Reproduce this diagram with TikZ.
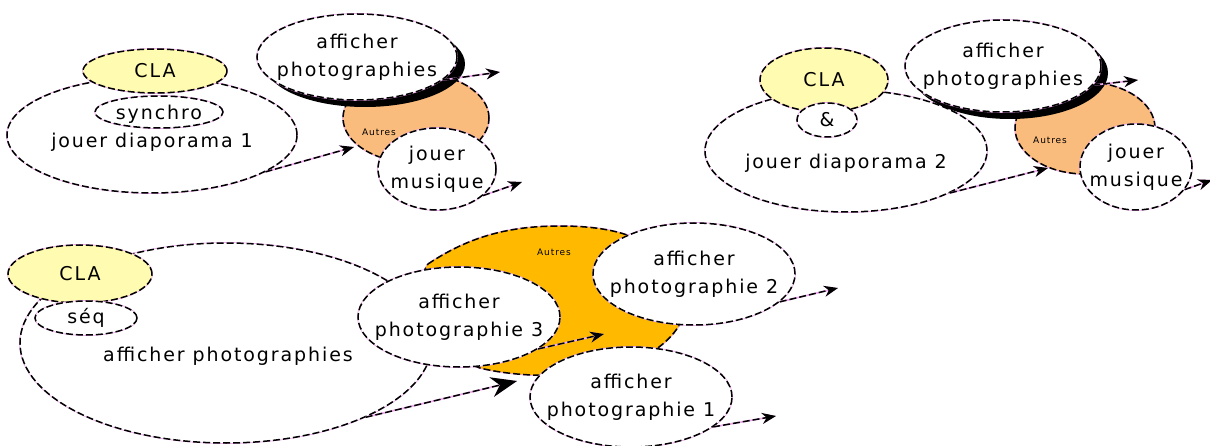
\documentclass[tikz,border=0pt]{standalone}
\usepackage{fontspec}
\setmainfont{DejaVu Sans}[LetterSpace=10]
\usetikzlibrary{shapes.geometric,arrows.meta}
\definecolor{clayel}{RGB}{255,251,176}
\definecolor{orlight}{RGB}{250,188,125}
\definecolor{ordark}{RGB}{255,186,0}
\definecolor{edgepink}{RGB}{240,170,240}
\tikzset{
  dsh/.style={draw=black, line width=1.5pt, dash pattern=on 7pt off 3pt,
    preaction={draw=edgepink, solid, line width=1.7pt}},
  el/.style={ellipse, inner sep=0pt, fill=white, dsh},
  cla/.style={el, fill=clayel},
  txt/.style={font=\fontsize{19}{28}\selectfont, align=center, inner sep=0pt},
  small/.style={font=\fontsize{9}{10}\selectfont, inner sep=0pt},
  arr/.style={dsh, -{Stealth[length=14pt,width=11pt]}},
  bigarr/.style={dsh, -{Stealth[length=26pt,width=20pt]}},
}
\begin{document}
\begin{tikzpicture}[x=1pt,y=-1pt]
\useasboundingbox (0,0) rectangle (1210,446);

% ---------- diagram 1 ----------
\node[el, minimum width=290, minimum height=116] (j1) at (152,135) {};
\node[txt] (j1t) at (152,142) {jouer diaporama 1};
\node[cla, minimum width=144, minimum height=44, label={[txt]center:CLA}] (c1) at (155,71) {};
\node[el, minimum width=128, minimum height=32, label={[txt,yshift=-2pt]center:synchro}] (s1) at (159,112) {};
\node[el, fill=orlight, minimum width=146, minimum height=90] (o1) at (416,118) {};
\node[small] (o1t) at (379,132) {Autres};
\fill[black] (365,64) ellipse [x radius=100, y radius=43];
\node[el, minimum width=200, minimum height=86, label={[txt]center:{afficher\\photographies}}] (a1) at (357,57) {};
\node[el, minimum width=118, minimum height=82, label={[txt]center:{jouer\\musique}}] (m1) at (437,169) {};
\coordinate (t1a) at (354,147);
\coordinate (t1b) at (500,72);
\coordinate (t1c) at (522,182);
\draw[arr] (j1.-18) -- (t1a);
\draw[arr] (a1.-15) -- (t1b);
\draw[arr] (m1.-30) -- (t1c);

% ---------- diagram 2 ----------
\node[el, minimum width=282, minimum height=122] (j2) at (846,151) {};
\node[txt] (j2t) at (846,163) {jouer diaporama 2};
\node[cla, minimum width=128, minimum height=64, label={[txt]center:CLA}] (c2) at (824,80) {};
\node[el, minimum width=60, minimum height=34, label={[txt]center:\&}] (s2) at (827,120) {};
\node[el, fill=orlight, minimum width=140, minimum height=92] (o2) at (1085,128) {};
\node[small] (o2t) at (1050,140) {Autres};
\fill[black] (1010,73) ellipse [x radius=98, y radius=46];
\node[el, minimum width=196, minimum height=92, label={[txt]center:{afficher\\photographies}}] (a2) at (1003,66) {};
\node[el, minimum width=112, minimum height=86, label={[txt]center:{jouer\\musique}}] (m2) at (1136,167) {};
\coordinate (t2a) at (1048,168);
\coordinate (t2b) at (1138,80);
\coordinate (t2c) at (1212,180);
\draw[arr] (j2.-22) -- (t2a);
\draw[arr] (a2.-12) -- (t2b);
\draw[arr] (m2.-25) -- (t2c);

% ---------- diagram 3 ----------
\node[el, minimum width=412, minimum height=200] (j3) at (226,343) {};
\node[txt] (j3t) at (228,356) {afficher photographies};
\node[cla, minimum width=144, minimum height=58, label={[txt]center:CLA}] (c3) at (80,274) {};
\node[el, minimum width=102, minimum height=34, label={[txt]center:séq}] (s3) at (86,318) {};
\path[dsh, fill=ordark] (428,264) .. controls (470,236) and (510,226) .. (560,226)
   .. controls (620,226) and (660,240) .. (680,280)
   .. controls (692,310) and (682,332) .. (652,352)
   .. controls (600,382) and (520,378) .. (480,368)
   .. controls (430,352) and (410,290) .. cycle;
\node[small] (o3t) at (554,252) {Autres};
\node[el, minimum width=202, minimum height=100, label={[txt]center:{afficher\\photographie 3}}] (p3) at (459,317) {};
\node[el, minimum width=202, minimum height=102, label={[txt]center:{afficher\\photographie 2}}] (p2) at (694,274) {};
\node[el, minimum width=202, minimum height=100, label={[txt]center:{afficher\\photographie 1}}] (p1) at (631,397) {};
\coordinate (t3a) at (517,381);
\coordinate (t3b) at (604,334);
\coordinate (t3c) at (838,288);
\coordinate (t3d) at (776,416);
\draw[bigarr] (j3.-28) -- (t3a);
\draw[arr] (p3.-22) -- (t3b);
\draw[arr] (p2.-18) -- (t3c);
\draw[arr] (p1.-20) -- (t3d);
\end{tikzpicture}
\end{document}
